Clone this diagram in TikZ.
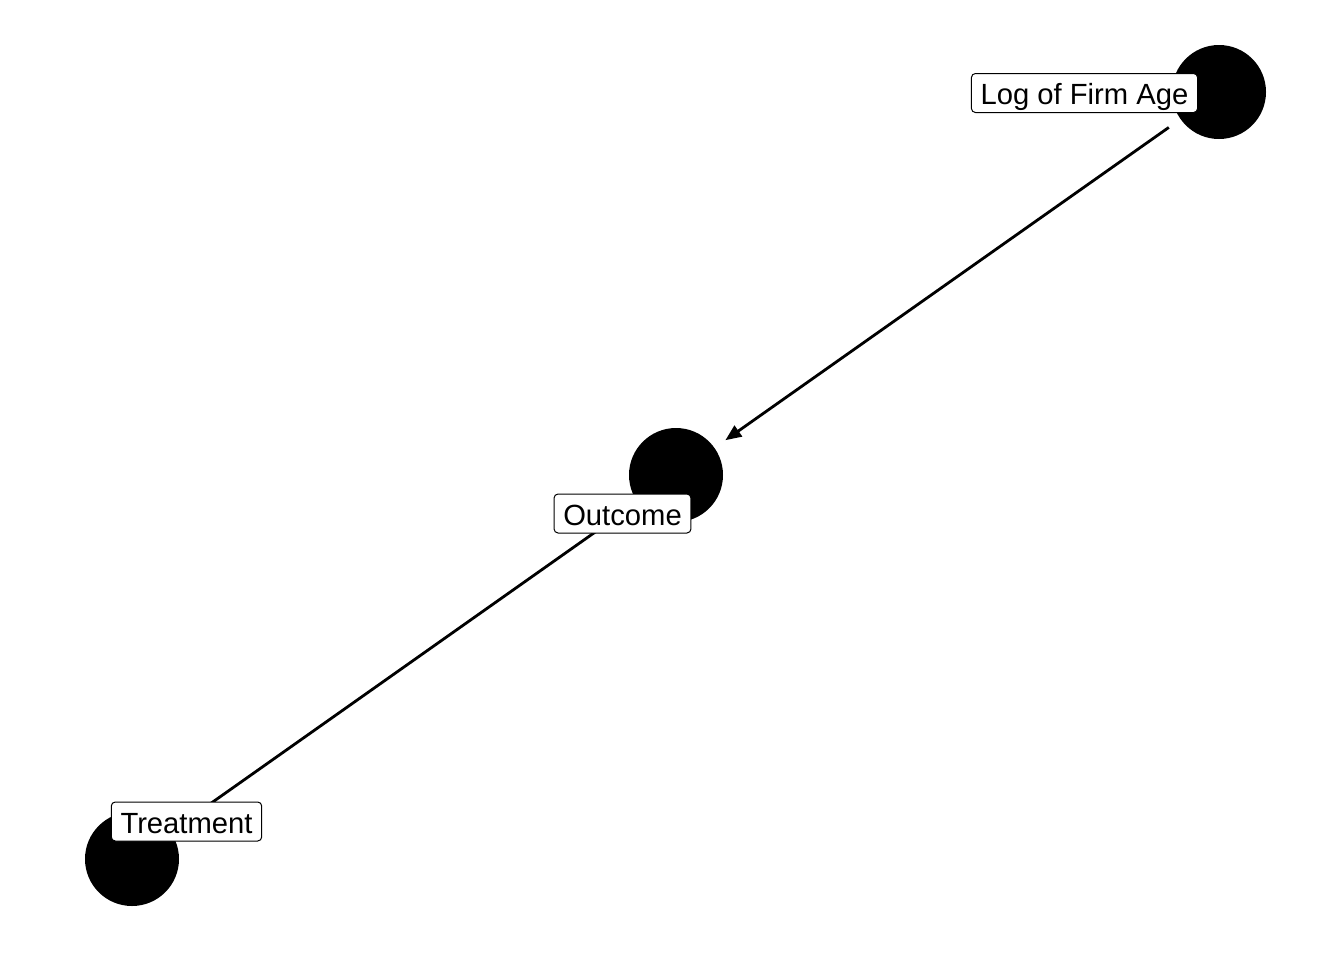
\documentclass[tikz,border=0pt]{standalone}
\usepackage{fontspec}
\setmainfont{Liberation Sans}
\usetikzlibrary{arrows.meta}
\begin{document}
\begin{tikzpicture}[x=0.5pt,y=-0.5pt,
  dot/.style={circle,fill=black,draw=none,minimum size=47pt,inner sep=0pt},
  lab/.style={draw=black,line width=0.5pt,fill=white,rounded corners=2pt,
    font=\fontsize{14.6}{17}\selectfont,inner xsep=4.6pt,inner ysep=0pt,
    minimum height=19.5pt,text height=13.5pt,text depth=2pt},
  edge/.style={line width=1.4pt,-{Triangle[length=8pt,width=6.5pt]},shorten <=7pt,shorten >=6.5pt}]
\useasboundingbox (0,0) rectangle (1344,960);
\node[dot] (age) at (1219,92) {};
\node[dot] (out) at (676,475) {};
\node[dot] (trt) at (132,859) {};
\draw[edge] (age) -- (out);
\draw[edge] (trt) -- (out);
\node[lab] (lage) at (1084.5,93) {Log of Firm Age};
\node[lab] (lout) at (622.5,513.5) {Outcome};
\node[lab] (ltrt) at (186.5,821.5) {Treatment};
\end{tikzpicture}
\end{document}
